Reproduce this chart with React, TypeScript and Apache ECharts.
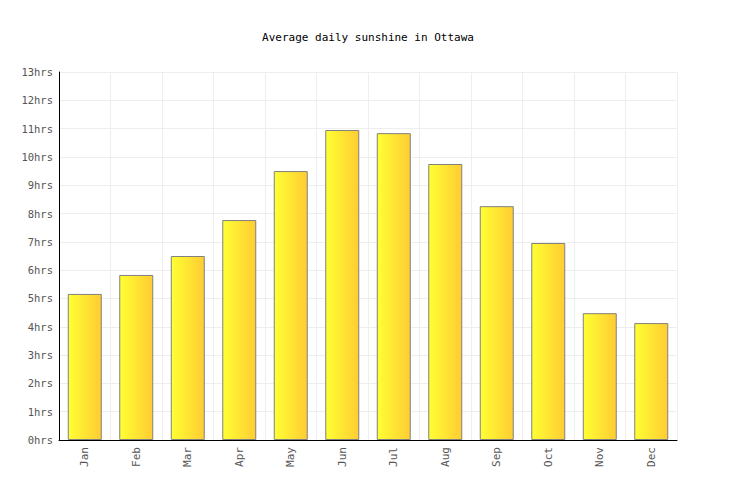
import * as echarts from "echarts";
import { useEffect, useRef } from "react";

const months = ["Jan", "Feb", "Mar", "Apr", "May", "Jun", "Jul", "Aug", "Sep", "Oct", "Nov", "Dec"];
const sunshineHours = [5.16, 5.83, 6.5, 7.77, 9.5, 10.95, 10.84, 9.75, 8.26, 6.96, 4.48, 4.13];

const MONO = "'DejaVu Sans Mono', 'Liberation Mono', monospace";

export default function App(): React.ReactElement {
  const containerRef = useRef<HTMLDivElement | null>(null);

  useEffect(() => {
    const target = containerRef.current;
    if (target === null) return;

    const chart = echarts.init(target, null, { renderer: "svg" });

    chart.setOption({
      animation: false,
      backgroundColor: "#ffffff",
      title: {
        text: "Average daily sunshine in Ottawa",
        left: "center",
        top: 27,
        textStyle: {
          fontFamily: MONO,
          fontSize: 11,
          fontWeight: "normal",
          color: "#000000",
        },
      },
      grid: { left: 59, right: 59, top: 72, bottom: 60, containLabel: false },
      xAxis: {
        type: "category",
        data: months,
        axisLine: { lineStyle: { color: "#000000", width: 1 } },
        axisTick: { show: false },
        axisLabel: {
          rotate: 90,
          color: "#555555",
          fontFamily: MONO,
          fontSize: 11,
          margin: 7,
        },
        splitLine: { show: true, lineStyle: { color: "#eeeeee", width: 1 } },
      },
      yAxis: {
        type: "value",
        min: 0,
        max: 13,
        interval: 1,
        axisLine: { show: true, lineStyle: { color: "#000000", width: 1 } },
        axisTick: { show: false },
        axisLabel: {
          formatter: "{value}hrs",
          color: "#555555",
          fontFamily: MONO,
          fontSize: 10.5,
          margin: 6,
        },
        splitLine: { show: true, lineStyle: { color: "#eeeeee", width: 1 } },
      },
      series: [
        {
          type: "bar",
          data: sunshineHours,
          barWidth: 34,
          itemStyle: {
            borderColor: "#808080",
            borderWidth: 1,
            color: {
              type: "linear",
              x: 0,
              y: 0,
              x2: 1,
              y2: 0,
              colorStops: [
                { offset: 0, color: "#ffff33" },
                { offset: 1, color: "#ffcc33" },
              ],
            },
          },
        },
      ],
    });

    return () => {
      chart.dispose();
    };
  }, []);

  return <div ref={containerRef} style={{ width: 736, height: 500, margin: -8 }} />;
}
